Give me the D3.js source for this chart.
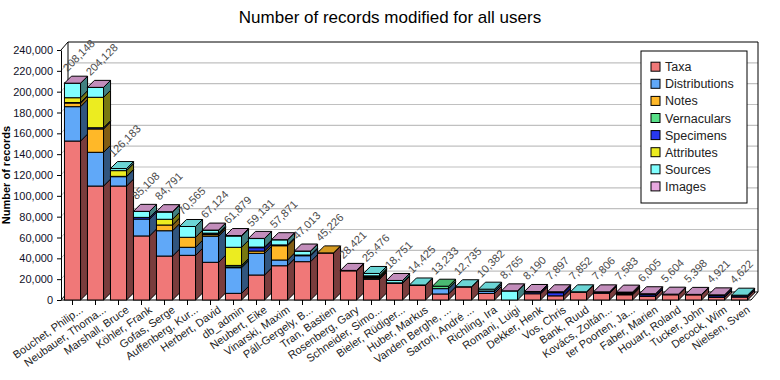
<!DOCTYPE html>
<html>
<head>
<meta charset="utf-8">
<script src="https://cdn.jsdelivr.net/npm/d3@7"></script>
<style>
  body { margin: 0; background: #fff; }
  text { font-family: Arial, "Liberation Sans", sans-serif; }
</style>
</head>
<body>
<svg id="chart" width="780" height="380"></svg>
<script>
// users, longest to shortest
const users = ["Bouchet, Philip...", "Neubauer, Thoma...", "Marshall, Bruce", "Köhler, Frank", "Gofas, Serge",
  "Auffenberg, Kur...", "Herbert, David", "db_admin", "Neubert, Eike", "Vinarski, Maxim",
  "Páll-Gergely, B...", "Tran, Bastien", "Rosenberg, Gary", "Schneider, Simo...", "Bieler, Rüdiger...",
  "Huber, Markus", "Vanden Berghe, ...", "Sartori, André ...", "Richling, Ira", "Romani, Luigi",
  "Dekker, Henk", "Vos, Chris", "Bank, Ruud", "Kovács, Zoltán...", "ter Poorten, Ja...",
  "Faber, Marien", "Houart, Roland", "Tucker, John", "Decock, Wim", "Nielsen, Sven"];

const seriesNames = ["Taxa", "Distributions", "Notes", "Vernaculars", "Specimens", "Attributes", "Sources", "Images"];
const seriesColors = ["#f07878", "#60a8f8", "#ffb828", "#58e088", "#2838f0", "#ecec20", "#80ffff", "#e8a8e0"];

const taxa          = [152600, 109400, 109400, 61500, 42200, 42900, 36200, 6400, 24000, 32900, 36800, 45100, 28000, 19900, 16000, 14000, 5800, 12500, 6300, 0, 6000, 4000, 7500, 6500, 5000, 3500, 5000, 4900, 2500, 2800];
const distributions = [33000, 32400, 9000, 16200, 24300, 7700, 25000, 24600, 20800, 5500, 5700, 0, 0, 1000, 0, 0, 5100, 0, 2000, 0, 0, 0, 0, 0, 800, 0, 0, 0, 0, 0];
const notes         = [3500, 22400, 0, 0, 5500, 9600, 1500, 800, 2200, 13700, 0, 126, 0, 800, 0, 0, 0, 0, 0, 0, 0, 0, 0, 0, 900, 0, 0, 0, 0, 0];
const vernaculars   = [0, 0, 0, 0, 0, 0, 0, 1400, 0, 0, 0, 0, 0, 0, 0, 0, 2333, 0, 0, 0, 0, 0, 0, 0, 0, 0, 0, 0, 0, 0];
const specimens     = [500, 1200, 300, 1600, 0, 0, 1000, 0, 3200, 800, 700, 0, 300, 500, 500, 0, 0, 0, 400, 0, 1500, 3000, 0, 800, 0, 1500, 0, 0, 1500, 1200];
const attributes    = [4600, 29200, 5500, 0, 5500, 0, 500, 17400, 600, 0, 0, 0, 0, 1000, 0, 0, 0, 0, 0, 0, 0, 0, 0, 0, 0, 0, 0, 0, 0, 0];
const sources       = [13900, 9500, 1983, 5780, 6900, 10365, 2800, 10800, 8200, 4900, 3700, 0, 0, 2276, 2200, 425, 0, 235, 1682, 8700, 0, 0, 352, 0, 0, 0, 0, 0, 0, 622];
const images        = [48, 28, 0, 28, 391, 0, 124, 479, 131, 71, 113, 0, 121, 0, 51, 0, 0, 0, 0, 65, 690, 897, 0, 506, 883, 1005, 604, 498, 921, 0];

const yTicks = [0, 20000, 40000, 60000, 80000, 100000, 120000, 140000, 160000, 180000, 200000, 220000, 240000];

const allSeries = [taxa, distributions, notes, vernaculars, specimens, attributes, sources, images];

const svg = d3.select("#chart");
const WX = 7, WY = -8;   // wall depth
const BX = 7, BY = -7;   // bar depth

const x = d3.scaleBand().domain(users).range([61, 751]).paddingInner(0.3).paddingOuter(0.15);
const y = d3.scaleLinear().domain([0, 240000]).range([300, 50]);

const rows = users.map((u, i) => {
  const row = { user: u };
  seriesNames.forEach((s, k) => row[s] = allSeries[k][i]);
  return row;
});
const stacked = d3.stack().keys(seriesNames)(rows);

// title
svg.append("text")
  .attr("x", 390).attr("y", 23)
  .attr("text-anchor", "middle")
  .attr("font-size", 17)
  .text("Number of records modified for all users");

// back wall grid
const x0 = 61, x1 = 751;
svg.append("g").selectAll("line").data(yTicks.slice(1, -1)).join("line")
  .attr("x1", x0 + WX).attr("x2", x1 + WX)
  .attr("y1", d => y(d) + WY).attr("y2", d => y(d) + WY)
  .attr("stroke", "#c0c0c0").attr("stroke-width", 1.2);
// left wall grid diagonals
svg.append("g").selectAll("line").data(yTicks.slice(1, -1)).join("line")
  .attr("x1", x0).attr("x2", x0 + WX)
  .attr("y1", d => y(d)).attr("y2", d => y(d) + WY)
  .attr("stroke", "#c0c0c0");

// wall outlines
svg.append("path")
  .attr("d", `M${x0},${y(240000)}L${x0 + WX},${y(240000) + WY}L${x1 + WX},${y(240000) + WY}L${x1 + WX},${y(0) + WY}`)
  .attr("fill", "none").attr("stroke", "#000");
svg.append("line")
  .attr("x1", x0 + WX).attr("x2", x0 + WX)
  .attr("y1", y(240000) + WY).attr("y2", y(0) + WY)
  .attr("stroke", "#000");

// floor
svg.append("path")
  .attr("d", `M${x0},${y(0)}L${x0 + WX},${y(0) + WY}L${x1 + WX},${y(0) + WY}L${x1},${y(0)}Z`)
  .attr("fill", "#fff").attr("stroke", "#000");

// bars
const bw = x.bandwidth();
const gBars = svg.append("g");
users.forEach((u, i) => {
  const g = gBars.append("g");
  const left = x(u);
  let topK = -1;
  stacked.forEach((layer, k) => {
    const [a, b] = layer[i];
    if (b - a <= 0) return;
    topK = k;
    const c = d3.color(seriesColors[k]);
    const ya = y(a), yb = y(b);
    g.append("rect")
      .attr("x", left).attr("y", yb)
      .attr("width", bw).attr("height", ya - yb)
      .attr("fill", c).attr("stroke", "#000").attr("stroke-width", 1);
    g.append("path")
      .attr("d", `M${left + bw},${ya}L${left + bw},${yb}L${left + bw + BX},${yb + BY}L${left + bw + BX},${ya + BY}Z`)
      .attr("fill", c.darker(1.9)).attr("stroke", "#000").attr("stroke-width", 1);
  });
  if (topK >= 0) {
    const yt = y(stacked[topK][i][1]);
    g.append("path")
      .attr("d", `M${left},${yt}L${left + BX},${yt + BY}L${left + bw + BX},${yt + BY}L${left + bw},${yt}Z`)
      .attr("fill", d3.color(seriesColors[topK]).darker(0.5)).attr("stroke", "#000").attr("stroke-width", 1);
  }
});

// value labels
svg.append("g").selectAll("text").data(rows).join("text")
  .attr("transform", (d, i) => {
    const tot = d3.sum(seriesNames, s => d[s]);
    return `translate(${x(d.user) + 3},${y(tot) - 11}) rotate(-45)`;
  })
  .attr("font-size", 11)
  .attr("fill", "#4a4a4a")
  .text(d => d3.format(",")(d3.sum(seriesNames, s => d[s])));

// y axis
const yAxis = svg.append("g")
  .attr("transform", `translate(${x0},0)`)
  .call(d3.axisLeft(y).tickValues(yTicks).tickFormat(d3.format(",")).tickSize(4).tickSizeOuter(0));
yAxis.select(".domain").attr("stroke", "#000");
yAxis.selectAll("text").attr("font-size", 11).attr("fill", "#101028").attr("font-family", "Arial, 'Liberation Sans', sans-serif").attr("dx", -1);

svg.append("text")
  .attr("transform", "translate(10,175) rotate(-90)")
  .attr("text-anchor", "middle")
  .attr("font-size", 11)
  .attr("font-weight", "bold")
  .text("Number of records");

// x axis
const xAxis = svg.append("g")
  .attr("transform", `translate(0,${y(0)})`)
  .call(d3.axisBottom(x).tickSize(5).tickSizeOuter(0));
xAxis.select(".domain").remove();
xAxis.selectAll("text")
  .attr("font-size", 11)
  .attr("fill", "#222")
  .attr("font-family", "Arial, 'Liberation Sans', sans-serif")
  .attr("text-anchor", "end")
  .attr("transform", "translate(4,1) rotate(-35)")
  .attr("y", 9).attr("dy", "0.35em");

// legend
const lg = svg.append("g");
lg.append("rect").attr("x", 641).attr("y", 51).attr("width", 106).attr("height", 152)
  .attr("fill", "#fff").attr("stroke", "#000");
seriesNames.forEach((s, k) => {
  const cy = 66.7 + k * 17.1;
  lg.append("rect").attr("x", 651).attr("y", cy - 4.5).attr("width", 9).attr("height", 9)
    .attr("fill", seriesColors[k]).attr("stroke", "#000");
  lg.append("text").attr("x", 665).attr("y", cy + 4.5)
    .attr("font-size", 12.5).attr("fill", "#222").text(s);
});
</script>
</body>
</html>
